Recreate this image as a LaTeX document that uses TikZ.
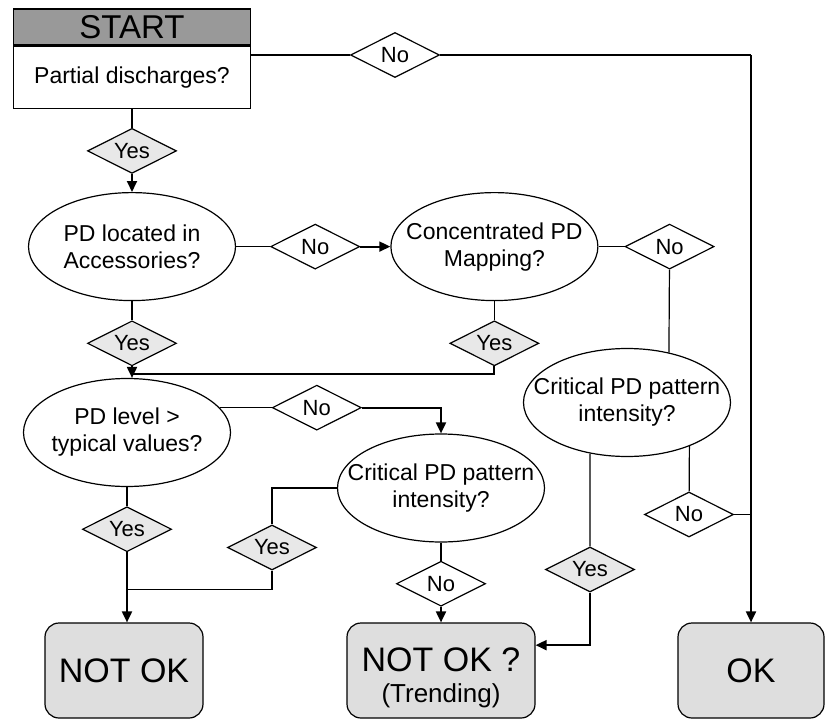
\documentclass[tikz,border=0pt]{standalone}
\usepackage{fontspec}
\setmainfont{Liberation Sans}
\usetikzlibrary{arrows.meta,positioning,shapes.geometric}

\definecolor{hdgray}{gray}{0.6}
\definecolor{yesgray}{gray}{0.91}
\definecolor{endgray}{gray}{0.87}

\begin{document}
\begin{tikzpicture}[x=1pt, y=-1pt, >={Triangle[length=11pt,width=10pt]}, line width=1.2pt]
        \tikzset{hdbox/.style={rectangle, draw, fill=hdgray, minimum width=237pt, minimum height=36pt, inner sep=0pt, font=\fontsize{33}{36}\selectfont}, qbox/.style={rectangle, draw, fill=white, minimum width=237pt, minimum height=62pt, inner sep=0pt, font=\fontsize{23}{27}\selectfont}, quest/.style={ellipse, draw, align=center, minimum width=207pt, minimum height=108pt, inner xsep=-22pt, inner ysep=0pt, font=\fontsize{23}{27}\selectfont}, yesd/.style={diamond, aspect=2, draw, fill=yesgray, minimum width=89pt, minimum height=45pt, inner sep=0pt, font=\fontsize{22}{24}\selectfont}, nod/.style={yesd, fill=white}, term/.style={rectangle, draw, rounded corners=14pt, fill=endgray, minimum height=95pt, align=center, inner sep=0pt, font=\fontsize{34}{31}\selectfont}, flow/.style={->, line width=1.9pt}}
        \useasboundingbox (0,0) rectangle (825,720);
        \node[hdbox] (start) at (132,27) {START};
        \node[qbox, below=0pt of start] (pd) {Partial discharges?};
        \node[yesd, below=19pt of pd] (yes1) {Yes};
        \node[quest, below=18pt of yes1] (acc) {PD located in\\Accessories?};
        \node[nod, right=34pt of acc] (no1) {No};
        \node[quest, right=30pt of no1] (conc) {Concentrated PD\\Mapping?};
        \node[nod, right=26pt of conc] (no2) {No};
        \node[nod] (no0) at (395,55) {No};
        \node[yesd, below=19pt of acc] (yes2) {Yes};
        \node[yesd, below=19pt of conc] (yes4) {Yes};
        \node[quest] (lvl) at (127,432.5) {PD level >\\typical values?};
        \node[nod, right=52pt of lvl.15] (no3) {No};
        \node[quest] (crit1) at (441,488) {Critical PD pattern\\intensity?};
        \node[quest] (crit2) at (627,402.5) {Critical PD pattern\\intensity?};
        \node[yesd, below=19pt of lvl] (yes3) {Yes};
        \node[yesd] (yes5) at (272,547.5) {Yes};
        \node[nod, below=18pt of crit1] (no4) {No};
        \node[yesd] (yes6) at (590,569.5) {Yes};
        \node[nod] (no5) at (689,514.5) {No};
        \node[term, minimum width=158pt] (notok) at (124,670.5) {NOT OK};
        \node[term, minimum width=188pt, font=\fontsize{26}{31}\selectfont] (notokq) at (441,670.5) {{\fontsize{34}{31}\selectfont\rule{0pt}{39pt}NOT OK ?}\\(Trending)};
        \node[term, minimum width=146pt] (ok) at (751,670.5) {OK};
        \coordinate[below=8pt of yes2.south] (j1);
        \coordinate[below=37pt of yes3.south] (j2);
        \coordinate (okc) at (no0 -| ok);
        % start and first branch
        \draw (pd) -- (yes1);
        \draw[flow] (yes1) -- (acc);
        \draw (pd.east |- no0) -- (no0);
        \draw (no0) -- (okc);
        \draw[flow] (okc) -- (ok);
        \draw (acc) -- (no1);
        \draw[flow] (no1) -- (conc);
        \draw (conc) -- (no2);
        \draw (no2) -- (crit2.50);
        \draw (acc) -- (yes2);
        \draw[flow] (yes2) -- (yes2 |- lvl.north);
        \draw (conc) -- (yes4);
        \draw[line width=1.9pt] (yes4) |- (j1);
        % level check
        \draw (lvl.15) -- (no3);
        \draw[flow] (no3) -| (crit1);
        \draw (lvl) -- (yes3);
        \draw (crit1) -| (yes5);
        \draw (yes5) |- (j2);
        \draw[flow] (yes3) -- (yes3 |- notok.north);
        \draw (crit1) -- (no4);
        \draw[flow] (no4) -- (notokq);
        % right column
        \draw (crit2.234) -- (yes6);
        \draw[flow] (yes6) |- (notokq.15);
        \draw (crit2.325) -- (no5);
        \draw (no5) -- (no5 -| ok);
\end{tikzpicture}
\end{document}
